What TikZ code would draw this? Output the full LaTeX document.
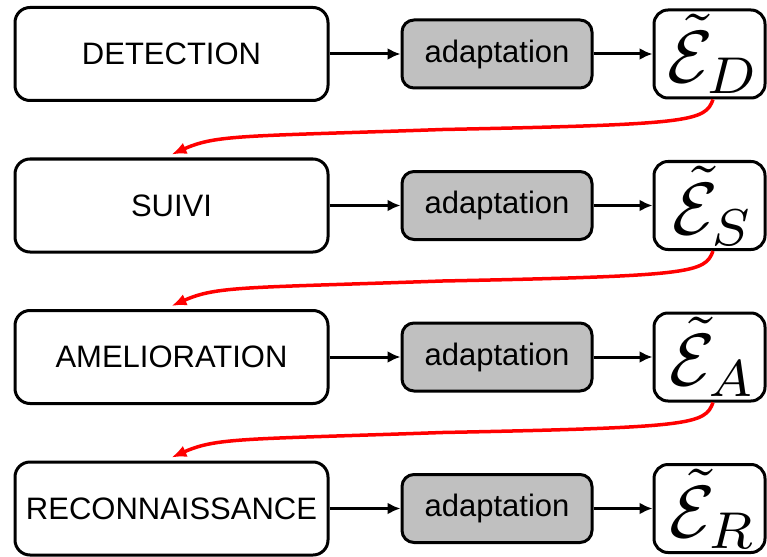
\documentclass[tikz,border=0pt]{standalone}
\usepackage{fontspec}
\newfontfamily\labelfont{Liberation Sans}
\usetikzlibrary{arrows.meta,calc}
\definecolor{adaptgray}{RGB}{192,192,192}
\begin{document}
\begin{tikzpicture}[x=1pt,y=-1pt,
  stagebox/.style={draw, line width=3pt, rounded corners=15pt,
    minimum width=313pt, minimum height=93pt, inner sep=0pt,
    font=\labelfont\fontsize{31}{36}\selectfont},
  adaptbox/.style={draw, fill=adaptgray, line width=3pt, rounded corners=12pt,
    minimum width=190pt, minimum height=68pt, inner sep=0pt,
    font=\labelfont\fontsize{31}{36}\selectfont},
  errbox/.style={draw, line width=3pt, rounded corners=14pt,
    minimum width=111pt, minimum height=88pt, inner sep=0pt},
  errsym/.style={inner sep=0pt},
  flow/.style={line width=3pt, -{Latex[length=13pt,width=12pt]}},
  feedback/.style={draw=red, line width=3.5pt, -{Latex[length=15pt,width=12pt]}}
]
\useasboundingbox (0,0) rectangle (767,556);

% processing stages
\node[stagebox] (l1) at (171.5,54)    {DETECTION};
\node[stagebox] (l2) at (171.5,205.5) {SUIVI};
\node[stagebox] (l3) at (171.5,357)   {AMELIORATION};
\node[stagebox] (l4) at (171.5,508.5) {RECONNAISSANCE};

% adaptation blocks
\node[adaptbox] (a1) at (497,54)    {adaptation};
\node[adaptbox] (a2) at (497,205.5) {adaptation};
\node[adaptbox] (a3) at (497,357)   {adaptation};
\node[adaptbox] (a4) at (497,508.5) {adaptation};

% resulting error sets: frames with their symbols
\node[errbox] (e1) at (709.5,54)    {};
\node[errbox] (e2) at (709.5,205.5) {};
\node[errbox] (e3) at (709.5,357)   {};
\node[errbox] (e4) at (709.5,508.5) {};
\node[errsym] (s1) at ([xshift=4pt]e1.center) {\scalebox{7.4}{$\tilde{\mathcal{E}}_D$}};
\node[errsym] (s2) at ([xshift=4pt]e2.center) {\scalebox{7.4}{$\tilde{\mathcal{E}}_S$}};
\node[errsym] (s3) at ([xshift=4pt]e3.center) {\scalebox{7.4}{$\tilde{\mathcal{E}}_A$}};
\node[errsym] (s4) at ([xshift=4pt]e4.center) {\scalebox{7.4}{$\tilde{\mathcal{E}}_R$}};

% forward flow in each row
\foreach \i in {1,...,4} {
  \draw[flow] (l\i) -- (a\i);
  \draw[flow] (a\i) -- (e\i);
}

% feedback from each error set to the next stage
\foreach \i/\j in {1/2,2/3,3/4} {
  \coordinate (m\i) at ($(e\i.south)+(-267,30)$);
  \draw[feedback] ([xshift=3.5pt]e\i.south)
    .. controls +(-8,22) and +(250,-5) .. (m\i)
    .. controls +(-200,7) and +(45,-20) .. ([yshift=3pt]l\j.north);
}
\end{tikzpicture}
\end{document}
